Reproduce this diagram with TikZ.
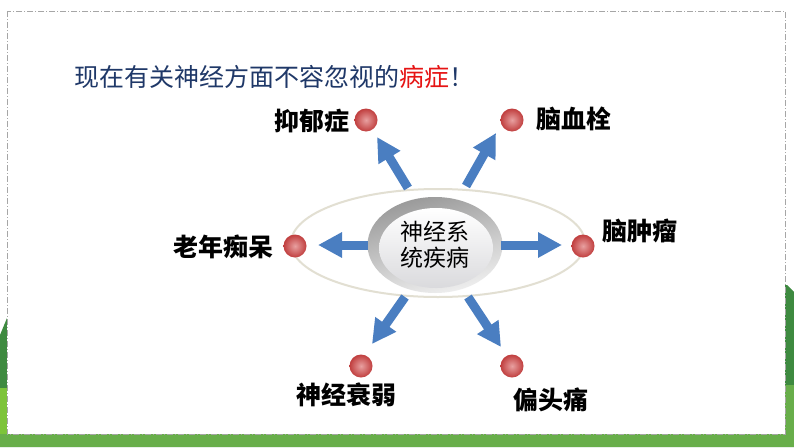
\documentclass[tikz,border=0pt]{standalone}
\usepackage{fontspec}
\newfontfamily\cjk{Noto Sans CJK SC}
\usetikzlibrary{arrows.meta,shapes.geometric}
\definecolor{arrowblue}{RGB}{74,126,193}
\definecolor{titleblue}{RGB}{31,56,104}
\definecolor{titlered}{RGB}{230,20,20}
\definecolor{darkgreen}{RGB}{62,138,64}
\definecolor{lightgreen}{RGB}{125,196,58}
\definecolor{midgreen}{RGB}{104,174,74}
\definecolor{ringgray}{RGB}{226,223,210}
\definecolor{dotrim}{RGB}{192,62,62}
\definecolor{dotcore}{RGB}{232,160,160}
\tikzset{
  dot/.style={circle, minimum size=23pt, inner sep=0pt, inner color=dotcore, outer color=dotrim},
  lbl/.style={font=\cjk\bfseries\fontsize{25}{27}\selectfont, text=black, inner sep=0pt},
  blockarrow/.style={draw=arrowblue, line width=9pt, -{Triangle[width=24pt,length=24pt]}},
}
\begin{document}
\begin{tikzpicture}[x=1pt,y=-1pt]
\useasboundingbox (0,0) rectangle (794,447);
% background greens
\fill[darkgreen] (0,335) -- (7,318) -- (787,285) -- (794,292) -- (794,447) -- (0,447) -- cycle;
\fill[lightgreen] (0,388) rectangle (7,434);
\fill[midgreen] (785,385) rectangle (794,434);
\fill[midgreen] (0,434) rectangle (794,447);
% panel
\path[fill=white, draw=gray!70, line width=1pt, dash pattern=on 6pt off 2pt on 1pt off 2pt] (7,11) rectangle (785,434);
% title
\node[anchor=west, inner sep=0pt, font=\cjk\fontsize{25}{27}\selectfont, text=titleblue] (title) at (74,77)
  {现在有关神经方面不容忽视的\textcolor{titlered}{病症}！};
% outer ring
\node[ellipse, draw=ringgray, line width=2pt, fill=white, minimum width=294pt, minimum height=108pt] (ring) at (438,243) {};
% centre oval
\node[ellipse, minimum width=135pt, minimum height=96pt, top color=gray!80, bottom color=gray!12, shading angle=15] (core) at (435,245) {};
\node[ellipse, minimum width=114pt, minimum height=80pt, top color=white, bottom color=blue!4!gray!28] (inner) at (436,248) {};
\node[font=\cjk\fontsize{23}{26}\selectfont, align=center, inner sep=0pt] (ctext) at (435,245) {神经系\\统疾病};
% dots
\node[dot] (d1) at (366,120) {};
\node[dot] (d2) at (512,120) {};
\node[dot] (d3) at (295,246) {};
\node[dot] (d4) at (583,246) {};
\node[dot] (d5) at (361,366) {};
\node[dot] (d6) at (512,366) {};
% labels
\node[lbl, anchor=east] (l1) at (350,121) {抑郁症};
\node[lbl, anchor=west] (l2) at (536,119) {脑血栓};
\node[lbl, anchor=east] (l3) at (274,247) {老年痴呆};
\node[lbl, anchor=west] (l4) at (602,231) {脑肿瘤};
\node[lbl] (l5) at (346,395) {神经衰弱};
\node[lbl] (l6) at (551,400) {偏头痛};
% arrow end points
\coordinate (a1s) at (408,188); \coordinate (a1e) at (377,137);
\coordinate (a2s) at (466,186); \coordinate (a2e) at (496,133);
\coordinate (a3s) at (368,245); \coordinate (a3e) at (318,245);
\coordinate (a4s) at (501,245); \coordinate (a4e) at (562,245);
\coordinate (a5s) at (405,297); \coordinate (a5e) at (372,344);
\coordinate (a6s) at (468,297); \coordinate (a6e) at (501,347);
\draw[blockarrow] (a1s) -- (a1e);
\draw[blockarrow] (a2s) -- (a2e);
\draw[blockarrow] (a3s) -- (a3e);
\draw[blockarrow] (a4s) -- (a4e);
\draw[blockarrow] (a5s) -- (a5e);
\draw[blockarrow] (a6s) -- (a6e);
\end{tikzpicture}
\end{document}
